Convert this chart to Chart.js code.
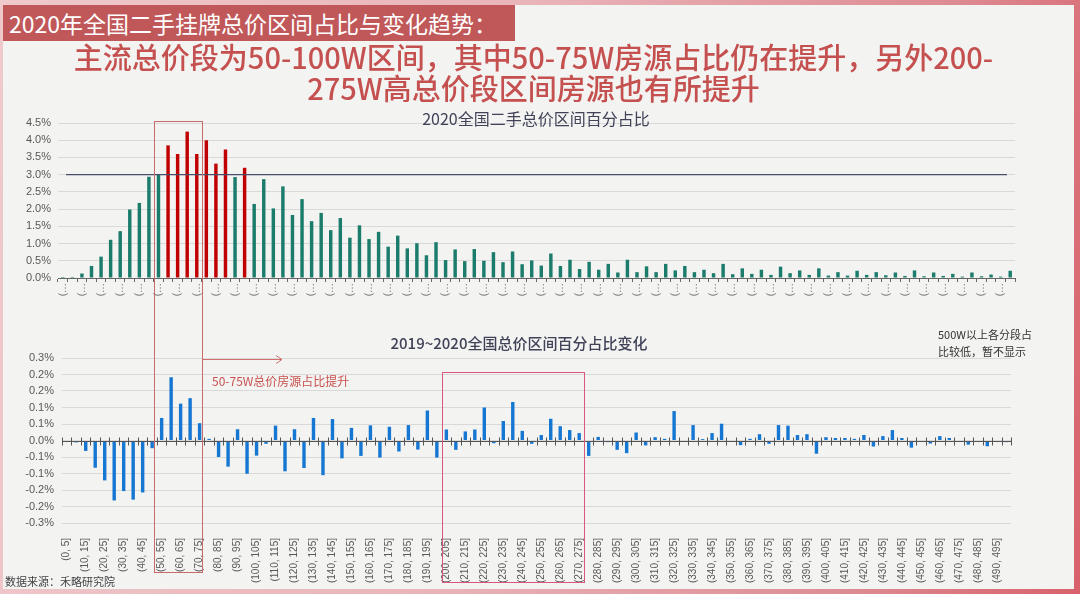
<!DOCTYPE html>
<html>
<head>
<meta charset="utf-8">
<script src="https://cdn.jsdelivr.net/npm/chart.js@4.4.1/dist/chart.umd.min.js"></script>
<style>
  html, body { margin: 0; padding: 0; }
  body {
    width: 1080px; height: 594px; position: relative; overflow: hidden;
    background: linear-gradient(100deg, #efc9cc 0%, #e9b4b9 45%, #dd8c93 80%, #d8616b 100%);
    font-family: 'Noto Sans CJK SC', 'Liberation Sans', sans-serif;
  }
  #paper { position: absolute; left: 3px; top: 5px; width: 1071px; height: 584px; background: #f3f3f2; }
  canvas { position: absolute; left: 0; }
  .txt { position: absolute; white-space: nowrap; z-index: 5; }
  #head {
    left: 3px; top: 5px; width: 512px; height: 36px; line-height: 36px;
    background: #c05859; color: #fff; font-size: 23px; padding-left: 6px; box-sizing: border-box;
  }
  #sub {
    left: 0; top: 41px; width: 1067px; text-align: center;
    color: #c4504f; font-size: 29px; font-weight: 500; line-height: 31px;
  }
  #t1 { left: 0; width: 1072px; top: 106px; text-align: center; font-size: 16px; color: #404358; }
  #t2 { left: 0; width: 1038px; top: 332px; text-align: center; font-size: 15px; font-weight: 500; color: #404358; }
  #note { left: 212px; top: 372px; font-size: 12px; color: #c9514f; }
  #hide { left: 938px; top: 326px; font-size: 11px; line-height: 17px; color: #333; }
  #src { left: 5px; top: 573px; font-size: 11px; color: #444; }
</style>
</head>
<body>
<div id="paper"></div>
<canvas id="top" width="1080" height="195" style="top:105px"></canvas>
<canvas id="bottom" width="1080" height="250" style="top:340px"></canvas>
<canvas id="overlay" width="1080" height="594" style="top:0; z-index:4; pointer-events:none"></canvas>

<div class="txt" id="head">2020年全国二手挂牌总价区间占比与变化趋势：</div>
<div class="txt" id="sub">主流总价段为50-100W区间，其中50-75W房源占比仍在提升，另外200-<br>275W高总价段区间房源也有所提升</div>
<div class="txt" id="t1">2020全国二手总价区间百分占比</div>
<div class="txt" id="t2">2019~2020全国总价区间百分占比变化</div>
<div class="txt" id="note">50-75W总价房源占比提升</div>
<div class="txt" id="hide">500W以上各分段占<br>比较低，暂不显示</div>
<div class="txt" id="src">数据来源：禾略研究院</div>

<script>
// price bands of 5W, from (0, 5] to (495, 500]
const bands = [];
for (let lo = 0; lo < 500; lo += 5) bands.push('(' + lo + ', ' + (lo + 5) + ']');

// 2020 share of listings per band, in %
const share2020 = [
    0.03, 0.03, 0.13, 0.35, 0.62, 1.11, 1.36, 1.99, 2.18, 2.94,
    3.00, 3.85, 3.60, 4.25, 3.60, 4.00, 3.32, 3.73, 2.93, 3.20,
    2.15, 2.87, 2.02, 2.66, 1.83, 2.29, 1.65, 1.89, 1.39, 1.74,
    1.17, 1.53, 1.13, 1.34, 0.91, 1.23, 0.86, 1.01, 0.66, 1.04,
    0.52, 0.83, 0.49, 0.84, 0.50, 0.75, 0.46, 0.77, 0.40, 0.51,
    0.36, 0.71, 0.35, 0.53, 0.26, 0.47, 0.24, 0.41, 0.16, 0.53,
    0.17, 0.34, 0.17, 0.41, 0.22, 0.35, 0.17, 0.24, 0.14, 0.41,
    0.11, 0.28, 0.12, 0.24, 0.09, 0.33, 0.14, 0.22, 0.09, 0.28,
    0.07, 0.17, 0.07, 0.21, 0.09, 0.17, 0.08, 0.16, 0.06, 0.22,
    0.05, 0.16, 0.06, 0.12, 0.04, 0.16, 0.05, 0.10, 0.04, 0.21
];

// change of share 2019 -> 2020, in percentage points
const change1920 = [
    -0.005, -0.007, -0.038, -0.099, -0.145, -0.218, -0.184, -0.215, -0.189, -0.028,
    0.082, 0.230, 0.134, 0.154, 0.063, 0.006, -0.060, -0.095, 0.041, -0.121,
    -0.055, -0.012, 0.054, -0.112, 0.041, -0.100, 0.082, -0.126, 0.078, -0.065,
    0.046, -0.056, 0.055, -0.062, 0.050, -0.040, 0.056, -0.033, 0.109, -0.062,
    0.040, -0.034, 0.033, 0.040, 0.120, -0.010, 0.071, 0.140, 0.035, -0.012,
    0.020, 0.079, 0.052, 0.038, 0.027, -0.056, 0.013, -0.006, -0.034, -0.046,
    0.029, -0.018, 0.012, 0.006, 0.107, -0.003, 0.056, 0.005, 0.027, 0.061,
    -0.002, -0.017, 0.006, 0.023, -0.012, 0.056, 0.054, 0.020, 0.023, -0.048,
    0.012, 0.009, 0.009, 0.006, 0.020, -0.022, 0.016, 0.038, 0.009, -0.026,
    -0.002, -0.011, 0.016, 0.009, -0.005, -0.015, -0.002, -0.021, -0.005, -0.006
];

// bars drawn in red on the 2020 chart
const highlightIdx = [11, 12, 13, 14, 15, 16, 17, 19];
const refLine = 3.0;

const GREEN = '#1b7c6b', RED = '#c00000', BLUE = '#1677d2';
const AXIS_FONT = "'Liberation Sans', 'Noto Sans CJK SC', sans-serif";

const topColors = share2020.map((v, i) => highlightIdx.includes(i) ? RED : GREEN);

/**
 * Horizontal reference line on the 2020 chart
 */
const refLinePlugin = {
    id: 'refLine',
    afterDatasetsDraw(chart) {
        const { ctx, chartArea, scales } = chart;
        const y = scales.y.getPixelForValue(refLine);
        ctx.save();
        ctx.strokeStyle = '#4a4e69';
        ctx.lineWidth = 1.3;
        ctx.beginPath();
        ctx.moveTo(chartArea.left + 8, y);
        ctx.lineTo(chartArea.right - 8, y);
        ctx.stroke();
        ctx.restore();
    }
};

/**
 * Zero line with cross ticks on the change chart
 */
const zeroAxisPlugin = {
    id: 'zeroAxis',
    afterDatasetsDraw(chart) {
        const { ctx, chartArea, scales } = chart;
        const y0 = Math.round(scales.y.getPixelForValue(0)) + 0.5;
        const half = (scales.x.getPixelForValue(1) - scales.x.getPixelForValue(0)) / 2;
        ctx.save();
        ctx.strokeStyle = '#555';
        ctx.lineWidth = 1;
        ctx.beginPath();
        ctx.moveTo(chartArea.left, y0);
        ctx.lineTo(chartArea.right, y0);
        for (let i = 0; i <= bands.length; i++) {
            const x = Math.round(scales.x.getPixelForValue(i) - half) + 0.5;
            ctx.moveTo(x, y0 - 4);
            ctx.lineTo(x, y0 + 4);
        }
        ctx.stroke();
        ctx.restore();
    }
};

const topChart = new Chart(document.getElementById('top').getContext('2d'), {
    type: 'bar',
    data: {
        labels: bands,
        datasets: [{
            data: share2020,
            backgroundColor: topColors,
            barPercentage: 0.36,
            categoryPercentage: 1.0
        }]
    },
    options: {
        responsive: false,
        animation: false,
        layout: { padding: { top: 18, right: 65, bottom: 0, left: 0 } },
        plugins: { legend: { display: false }, tooltip: { enabled: false } },
        scales: {
            x: {
                grid: { display: true, drawOnChartArea: false, tickLength: 4, color: '#666', offset: true },
                border: { display: true, color: '#666' },
                ticks: {
                    autoSkip: false, minRotation: 90, maxRotation: 90, padding: 1,
                    color: '#777', font: { size: 10, family: AXIS_FONT },
                    callback: (v, i) => i % 2 === 0 ? '(…' : ''
                },
                afterFit: s => { s.height = 22; }
            },
            y: {
                min: 0, max: 4.5,
                grid: { color: '#d9d9d9', drawTicks: false },
                border: { display: false },
                ticks: {
                    stepSize: 0.5, padding: 7, color: '#595959',
                    font: { size: 11, family: AXIS_FONT },
                    callback: v => v.toFixed(1) + '%'
                },
                afterFit: s => { s.width = 58; }
            }
        }
    },
    plugins: [refLinePlugin]
});

const bottomChart = new Chart(document.getElementById('bottom').getContext('2d'), {
    type: 'bar',
    data: {
        labels: bands,
        datasets: [{
            data: change1920,
            backgroundColor: BLUE,
            barPercentage: 0.36,
            categoryPercentage: 1.0
        }]
    },
    options: {
        responsive: false,
        animation: false,
        layout: { padding: { top: 18, right: 69, bottom: 0, left: 0 } },
        plugins: { legend: { display: false }, tooltip: { enabled: false } },
        scales: {
            x: {
                grid: { display: false },
                border: { display: false },
                ticks: {
                    autoSkip: false, minRotation: 90, maxRotation: 90, padding: 7,
                    color: '#595959', font: { size: 10, family: AXIS_FONT },
                    callback: (v, i) => i % 2 === 0 ? bands[i] : ''
                },
                afterFit: s => { s.height = 67; }
            },
            y: {
                min: -0.3, max: 0.3,
                grid: { color: '#d9d9d9', drawTicks: false },
                border: { display: false },
                ticks: {
                    stepSize: 0.06, padding: 8, color: '#595959',
                    font: { size: 11, family: AXIS_FONT },
                    callback: v => (Math.abs(v) < 1e-9 ? 0 : v).toFixed(1) + '%'
                },
                afterFit: s => { s.width = 62; }
            }
        }
    },
    plugins: [zeroAxisPlugin]
});

// highlight boxes and arrow, placed from the charts' own category scales
(function draw_overlay() {
    const ctx = document.getElementById('overlay').getContext('2d');
    const edge = (chart, i) => {
        const x = chart.scales.x;
        return x.getPixelForValue(i) - (x.getPixelForValue(1) - x.getPixelForValue(0)) / 2;
    };

    ctx.lineWidth = 1;

    // 50-75W box across both charts
    const l1 = Math.round(edge(topChart, 10)) + 0.5;
    const r1 = Math.round(edge(topChart, 15)) + 0.5;
    ctx.strokeStyle = '#c96a6a';
    ctx.strokeRect(l1, 121.5, r1 - l1, 451);

    // 200-275W box on the change chart
    const l2 = Math.round(edge(bottomChart, 40)) + 0.5;
    const r2 = Math.round(edge(bottomChart, 55)) + 0.5;
    ctx.strokeStyle = '#d9577a';
    ctx.strokeRect(l2, 372.5, r2 - l2, 210);

    // arrow
    ctx.strokeStyle = '#d27070';
    ctx.beginPath();
    ctx.moveTo(r1, 359.5);
    ctx.lineTo(282, 359.5);
    ctx.moveTo(276, 355.5);
    ctx.lineTo(282, 359.5);
    ctx.lineTo(276, 363.5);
    ctx.stroke();
})();
</script>
</body>
</html>
